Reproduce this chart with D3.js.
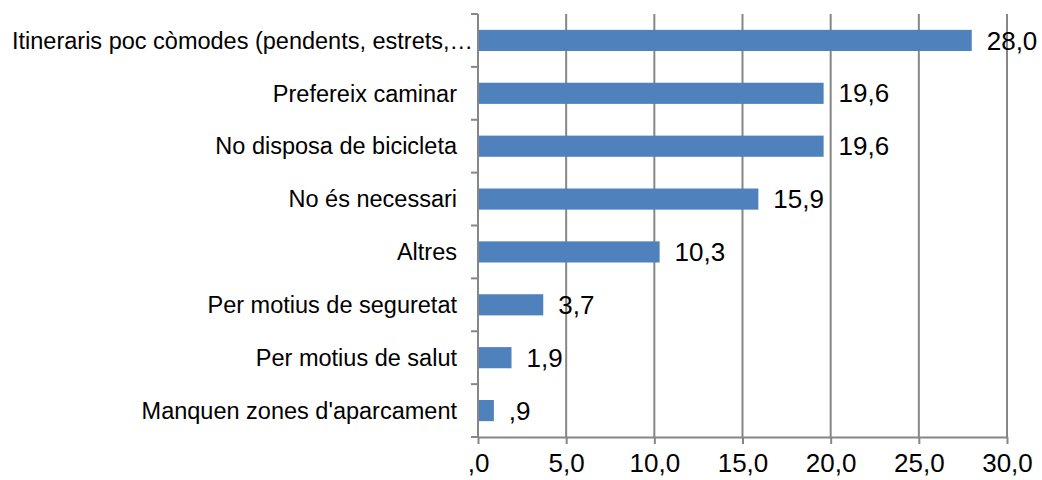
<!DOCTYPE html>
<html>
<head>
<meta charset="utf-8">
<script src="https://cdn.jsdelivr.net/npm/d3@7"></script>
<style>
  body { margin: 0; background: #fff; }
  svg { font-family: "Liberation Sans", Arial, sans-serif; }
</style>
</head>
<body>
<div class="chart"></div>
<script>
// motius per no fer servir la bicicleta (%)
const categories = [
    "Itineraris poc còmodes (pendents, estrets,…",
    "Prefereix caminar",
    "No disposa de bicicleta",
    "No és necessari",
    "Altres",
    "Per motius de seguretat",
    "Per motius de salut",
    "Manquen zones d'aparcament"
];
const values = [28.0, 19.6, 19.6, 15.9, 10.3, 3.7, 1.9, 0.9];
const xTicks = [0, 5, 10, 15, 20, 25, 30];

const width = 1042;
const height = 480;
const margin = {top: 14, right: 35, bottom: 43, left: 478};
const fontSize = 23.5;
const numSize = 26;
const grey = "#868686";

// format like the original: comma decimal, no leading zero
function fmt(v){
    let s = d3.format(".1f")(v).replace(".", ",");
    if (s.startsWith("0,")) s = s.slice(1);
    return s;
}

const svg = d3.select('.chart')
    .append('svg')
    .attr('width', width)
    .attr('height', height);

const x = d3.scaleLinear()
    .domain([0, 30])
    .range([margin.left, width - margin.right]);

const y = d3.scaleBand()
    .domain(categories)
    .range([margin.top, height - margin.bottom])
    .paddingInner(0.6)
    .paddingOuter(0.3);

//vertical gridlines
svg.selectAll(".grid")
    .data(xTicks.slice(1))
    .enter()
    .append("line")
    .attr("x1", d => x(d))
    .attr("x2", d => x(d))
    .attr("y1", margin.top)
    .attr("y2", height - margin.bottom)
    .attr("stroke", grey)
    .attr("stroke-width", 2);

//bars
svg.selectAll("rect")
    .data(values)
    .enter()
    .append("rect")
    .attr("x", x(0))
    .attr("y", (d, i) => y(categories[i]))
    .attr("width", d => x(d) - x(0))
    .attr("height", y.bandwidth())
    .attr("fill", "#4F81BD");

//bottom axis
const xAxis = svg.append("g")
    .attr("transform", `translate(0,${height - margin.bottom})`)
    .call(d3.axisBottom(x).tickValues(xTicks).tickFormat(fmt).tickSize(7).tickSizeOuter(0).tickPadding(10));
xAxis.select(".domain").attr("stroke", grey).attr("stroke-width", 2);
xAxis.selectAll(".tick line").attr("stroke", grey).attr("stroke-width", 2);
xAxis.selectAll("text")
    .attr("font-size", numSize)
    .attr("font-family", "Liberation Sans, Arial, sans-serif")
    .attr("fill", "#000");

//left axis: ticks at band boundaries
const bounds = d3.range(categories.length + 1).map(i => margin.top + i * (height - margin.top - margin.bottom) / categories.length);
svg.append("line")
    .attr("x1", x(0)).attr("x2", x(0))
    .attr("y1", margin.top).attr("y2", height - margin.bottom)
    .attr("stroke", grey).attr("stroke-width", 2);
svg.selectAll(".ytick")
    .data(bounds)
    .enter()
    .append("line")
    .attr("x1", x(0) - 7).attr("x2", x(0))
    .attr("y1", d => d).attr("y2", d => d)
    .attr("stroke", grey).attr("stroke-width", 2);

//category labels
svg.selectAll(".cat")
    .data(categories)
    .enter()
    .append("text")
    .attr("class", "cat")
    .text(d => d)
    .attr("x", x(0) - 21)
    .attr("y", d => y(d) + y.bandwidth() / 2)
    .attr("dy", "0.35em")
    .attr("text-anchor", "end")
    .attr("font-size", fontSize)
    .attr("fill", "#000")
    .each(function(){
        // long label: keep it on the page like the original
        const b = this.getBBox();
        if (b.x < 12) {
            d3.select(this).attr("text-anchor", "start").attr("x", 12);
        }
    });

//value labels
svg.selectAll(".val")
    .data(values)
    .enter()
    .append("text")
    .text(d => fmt(d))
    .attr("x", d => x(d) + 15)
    .attr("y", (d, i) => y(categories[i]) + y.bandwidth() / 2)
    .attr("dy", "0.35em")
    .attr("font-size", numSize)
    .attr("fill", "#000");
</script>
</body>
</html>
